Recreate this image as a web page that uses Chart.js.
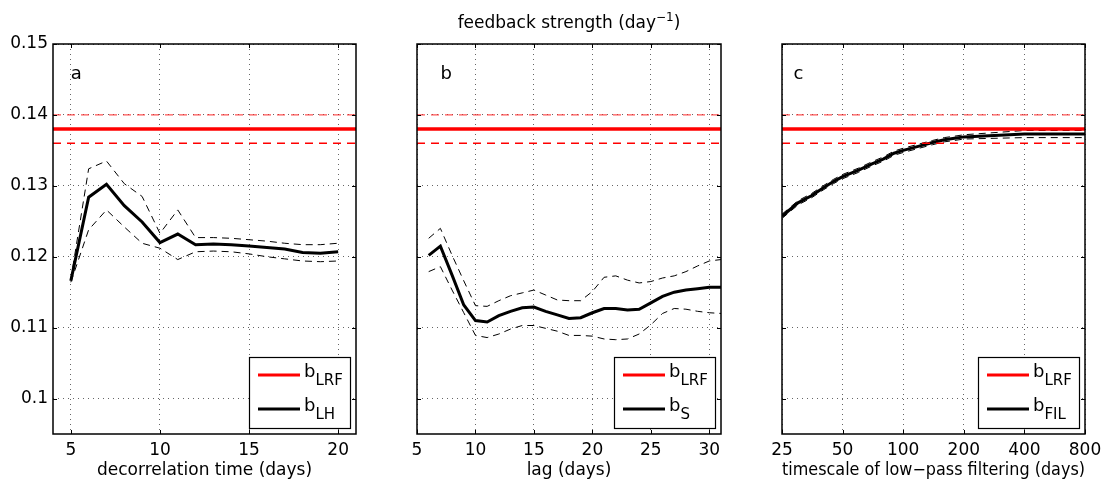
<!DOCTYPE html>
<html>
<head>
<title>Feedback strength estimates</title>
<script src="https://cdn.jsdelivr.net/npm/chart.js@4/dist/chart.umd.min.js"></script>
<style>
body { margin: 0; background: #fff; }
.wrap { position: relative; width: 1110px; height: 488px; }
.wrap canvas { position: absolute; left: 0; top: 0; }
</style>
</head>
<body>
<div class="wrap">
  <canvas id="panelA" width="1110" height="488"></canvas>
  <canvas id="panelB" width="1110" height="488"></canvas>
  <canvas id="panelC" width="1110" height="488"></canvas>
</div>
<script>
// reference feedback from the linear response function, with its range
var bLRF = 0.138;
var bLRFHigh = 0.140;
var bLRFLow = 0.136;

// y axis (shared by the three panels)
var yTicks = [0.10, 0.11, 0.12, 0.13, 0.14, 0.15];
var yTickLabels = ['0.1', '0.11', '0.12', '0.13', '0.14', '0.15'];

// a: decorrelation time
var decorrDays = [5, 6, 7, 8, 9, 10, 11, 12, 13, 14, 15, 16, 17, 18, 19, 20];
var bLH      = [0.1166, 0.1284, 0.1302, 0.1272, 0.1249, 0.1220, 0.1232, 0.1217, 0.1218, 0.1217, 0.1215, 0.1213, 0.1211, 0.1206, 0.1205, 0.1207];
var bLHHigh  = [0.1168, 0.1324, 0.1335, 0.1303, 0.1285, 0.1233, 0.1266, 0.1227, 0.1227, 0.1226, 0.1224, 0.1222, 0.1219, 0.1217, 0.1217, 0.1219];
var bLHLow   = [0.1164, 0.1238, 0.1266, 0.1242, 0.1219, 0.1212, 0.1196, 0.1207, 0.1208, 0.1207, 0.1204, 0.1200, 0.1197, 0.1194, 0.1193, 0.1194];
var decorrTicks = [5, 10, 15, 20];

// b: lag
var lagDays = [6, 7, 8, 9, 10, 11, 12, 13, 14, 15, 16, 17, 18, 19, 20, 21, 22, 23, 24, 25, 26, 27, 28, 29, 30, 31];
var bS     = [0.1202, 0.1215, 0.1174, 0.1132, 0.1110, 0.1108, 0.1117, 0.1123, 0.1128, 0.1129, 0.1123, 0.1118, 0.1113, 0.1114, 0.1121, 0.1127, 0.1127, 0.1125, 0.1126, 0.1135, 0.1144, 0.1150, 0.1153, 0.1155, 0.1157, 0.1157];
var bSHigh = [0.1226, 0.1240, 0.1202, 0.1166, 0.1131, 0.1130, 0.1138, 0.1145, 0.1149, 0.1153, 0.1146, 0.1139, 0.1138, 0.1138, 0.1151, 0.1171, 0.1173, 0.1167, 0.1163, 0.1165, 0.1170, 0.1173, 0.1179, 0.1187, 0.1194, 0.1196];
var bSLow  = [0.1179, 0.1186, 0.1153, 0.1121, 0.1089, 0.1086, 0.1091, 0.1098, 0.1103, 0.1103, 0.1099, 0.1095, 0.1089, 0.1089, 0.1088, 0.1084, 0.1083, 0.1084, 0.1091, 0.1104, 0.1120, 0.1127, 0.1126, 0.1123, 0.1121, 0.1120];
var lagTicks = [5, 10, 15, 20, 25, 30];

// c: low-pass filter timescale
var filterDays = [25, 30, 35, 40, 45, 50, 60, 70, 80, 90, 100, 120, 140, 160, 180, 200, 400, 800];
var bFIL     = [0.1257, 0.1276, 0.1286, 0.1297, 0.1306, 0.1313, 0.1322, 0.1331, 0.1338, 0.1346, 0.1350, 0.1356, 0.1361, 0.1365, 0.1367, 0.1369, 0.1373, 0.1373];
var bFILHigh = [0.1260, 0.1279, 0.1289, 0.1300, 0.1309, 0.1316, 0.1325, 0.1334, 0.1341, 0.1349, 0.1353, 0.1359, 0.1364, 0.1368, 0.1370, 0.1372, 0.1378, 0.1378];
var bFILLow  = [0.1254, 0.1273, 0.1283, 0.1294, 0.1303, 0.1310, 0.1319, 0.1328, 0.1335, 0.1343, 0.1347, 0.1353, 0.1358, 0.1362, 0.1364, 0.1366, 0.1368, 0.1368];
var filterTicks = [25, 50, 100, 200, 400, 800];

Chart.defaults.font.family = 'DejaVu Sans';
Chart.defaults.font.size = 17;
Chart.defaults.color = '#000';

function pts(xs, ys) {
  return xs.map(function (x, i) { return {x: x, y: ys[i]}; });
}
function flat(x0, x1, v) {
  return [{x: x0, y: v}, {x: x1, y: v}];
}

// frame, inward ticks, panel letter, legend and (optionally) the figure title
var panelDecor = {
  id: 'panelDecor',
  afterDraw: function (chart, args, opts) {
    var ctx = chart.ctx, a = chart.chartArea;
    var xs = chart.scales.x, ys = chart.scales.y;
    ctx.save();
    ctx.strokeStyle = '#000';
    ctx.lineWidth = 1;
    ctx.beginPath();
    xs.ticks.forEach(function (t) {
      var px = Math.round(xs.getPixelForValue(t.value)) + 0.5;
      ctx.moveTo(px, a.bottom); ctx.lineTo(px, a.bottom - 4);
      ctx.moveTo(px, a.top); ctx.lineTo(px, a.top + 4);
    });
    ys.ticks.forEach(function (t) {
      var py = Math.round(ys.getPixelForValue(t.value)) + 0.5;
      ctx.moveTo(a.left, py); ctx.lineTo(a.left + 4, py);
      ctx.moveTo(a.right, py); ctx.lineTo(a.right - 4, py);
    });
    ctx.stroke();
    ctx.lineWidth = 1.5;
    ctx.strokeRect(a.left, a.top, a.right - a.left, a.bottom - a.top);

    // panel letter
    ctx.fillStyle = '#000';
    ctx.font = '18px "DejaVu Sans"';
    ctx.textAlign = 'left';
    ctx.textBaseline = 'alphabetic';
    ctx.fillText(opts.letter, xs.getPixelForValue(opts.letterX), ys.getPixelForValue(0.145));

    // legend box
    var bw = 101, bh = 71;
    var bx = a.right - 6 - bw, by = a.bottom - 6 - bh;
    ctx.fillStyle = '#fff';
    ctx.fillRect(bx, by, bw, bh);
    ctx.lineWidth = 1.2;
    ctx.strokeRect(bx + 0.5, by + 0.5, bw, bh);
    var entries = chart.data.datasets.filter(function (d) { return d.legend; });
    entries.forEach(function (d, i) {
      var ly = by + 18 + i * 34;
      ctx.strokeStyle = d.borderColor;
      ctx.lineWidth = 3;
      ctx.beginPath();
      ctx.moveTo(bx + 9, ly); ctx.lineTo(bx + 51, ly);
      ctx.stroke();
      var parts = d.label.split('_');
      ctx.fillStyle = '#000';
      ctx.font = '18px "DejaVu Sans"';
      ctx.fillText(parts[0], bx + 55, ly + 2);
      var w = ctx.measureText(parts[0]).width;
      ctx.font = '15px "DejaVu Sans"';
      ctx.fillText(parts[1], bx + 55 + w, ly + 10);
    });

    // shared title over the middle panel
    if (opts.title) {
      var main = 'feedback strength (day', sup = '\u22121', close = ')';
      ctx.font = '17px "DejaVu Sans"';
      var w1 = ctx.measureText(main).width, w3 = ctx.measureText(close).width;
      ctx.font = '12px "DejaVu Sans"';
      var w2 = ctx.measureText(sup).width;
      var x0 = (a.left + a.right) / 2 - (w1 + w2 + w3) / 2;
      var base = a.top - 16;
      ctx.font = '17px "DejaVu Sans"';
      ctx.fillText(main, x0, base);
      ctx.fillText(close, x0 + w1 + w2, base);
      ctx.font = '12px "DejaVu Sans"';
      ctx.fillText(sup, x0 + w1, base - 7);
    }
    ctx.restore();
  }
};

function makePanel(id, p) {
  var x0 = p.xMin, x1 = p.xMax;
  var datasets = [
    {label: 'low', data: flat(x0, x1, bLRFLow), borderColor: '#ff0000', borderWidth: 1.4, borderDash: [8, 6]},
    {label: 'high', data: flat(x0, x1, bLRFHigh), borderColor: 'rgba(255,40,40,0.8)', borderWidth: 1.4, borderDash: [8, 6]},
    {label: 'b_LRF', legend: true, data: flat(x0, x1, bLRF), borderColor: '#ff0000', borderWidth: 3.5},
    {label: 'upper', data: pts(p.xs, p.high), borderColor: '#000', borderWidth: 1, borderDash: [7, 5]},
    {label: 'lower', data: pts(p.xs, p.low), borderColor: '#000', borderWidth: 1, borderDash: [7, 5]},
    {label: p.name, legend: true, data: pts(p.xs, p.mid), borderColor: '#000', borderWidth: 3}
  ];
  datasets.forEach(function (d) { d.pointRadius = 0; d.fill = false; d.tension = 0; });

  return new Chart(document.getElementById(id), {
    type: 'line',
    data: {datasets: datasets},
    options: {
      responsive: false,
      animation: false,
      devicePixelRatio: 1,
      events: [],
      layout: {padding: {left: p.showY ? p.left - 53 : p.left, right: 1110 - p.right, top: 44, bottom: 0}},
      plugins: {
        legend: {display: false},
        tooltip: {enabled: false},
        panelDecor: {letter: p.letter, letterX: p.letterX, title: p.title}
      },
      scales: {
        x: {
          type: p.xType,
          min: x0,
          max: x1,
          afterBuildTicks: function (s) { s.ticks = p.xTicks.map(function (v) { return {value: v}; }); },
          afterFit: function (s) { s.height = 54; },
          ticks: {
            padding: 6,
            maxRotation: 0,
            autoSkip: false,
            callback: function (v, i) { return String(p.xTicks[i]); }
          },
          grid: {color: 'rgba(0,0,0,0.6)', lineWidth: 1, drawTicks: false},
          border: {display: false, dash: [1, 4]},
          title: {display: true, text: p.xTitle, padding: {top: 0, bottom: 7}, font: {size: 17}}
        },
        y: {
          type: 'linear',
          min: 0.095,
          max: 0.15,
          afterBuildTicks: function (s) { s.ticks = yTicks.map(function (v) { return {value: v}; }); },
          afterFit: function (s) { s.width = p.showY ? 53 : 0; },
          ticks: {
            display: p.showY,
            padding: 5,
            callback: function (v, i) { return yTickLabels[i]; }
          },
          grid: {color: 'rgba(0,0,0,0.6)', lineWidth: 1, drawTicks: false},
          border: {display: false, dash: [1, 4]}
        }
      }
    },
    plugins: [panelDecor]
  });
}

makePanel('panelA', {
  xs: decorrDays, mid: bLH, high: bLHHigh, low: bLHLow, name: 'b_LH',
  xType: 'linear', xMin: 4, xMax: 21, xTicks: decorrTicks,
  xTitle: 'decorrelation time (days)', left: 53, right: 356,
  letter: 'a', letterX: 5, showY: true, title: false
});
makePanel('panelB', {
  xs: lagDays, mid: bS, high: bSHigh, low: bSLow, name: 'b_S',
  xType: 'linear', xMin: 5, xMax: 31, xTicks: lagTicks,
  xTitle: 'lag (days)', left: 417, right: 721,
  letter: 'b', letterX: 7, showY: false, title: true
});
makePanel('panelC', {
  xs: filterDays, mid: bFIL, high: bFILHigh, low: bFILLow, name: 'b_FIL',
  xType: 'logarithmic', xMin: 25, xMax: 800, xTicks: filterTicks,
  xTitle: 'timescale of low\u2212pass filtering (days)', left: 782, right: 1085,
  letter: 'c', letterX: 28.5, showY: false, title: false
});
</script>
</body>
</html>
